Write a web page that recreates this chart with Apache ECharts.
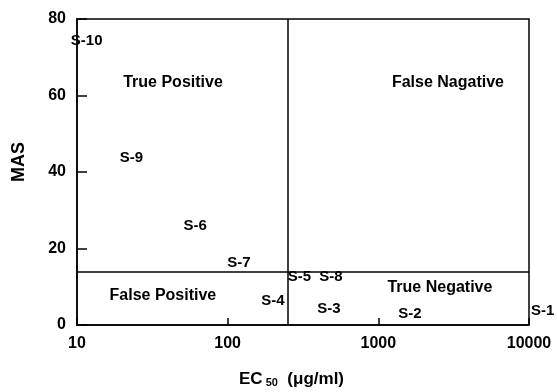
<!DOCTYPE html>
<html>
<head>
<meta charset="utf-8">
<script src="https://cdn.jsdelivr.net/npm/echarts@6/dist/echarts.min.js"></script>
<style>html,body{margin:0;padding:0;background:#fff}#c{width:557px;height:392px}</style>
</head>
<body>
<div id="c"></div>
<script>
// Compounds and their values
var compounds = ['S-1', 'S-2', 'S-3', 'S-4', 'S-5', 'S-6', 'S-7', 'S-8', 'S-9', 'S-10'];
var ec50 = [10000, 1620, 470, 200, 300, 61, 119, 484, 23, 11.6];
var mas = [3.7, 2.9, 4.2, 6.3, 12.5, 25.9, 16.3, 12.5, 43.7, 74.2];

// Quadrant annotations
var regions = ['True Positive', 'False Nagative', 'False Positive', 'True Negative'];
var regionX = [43.4, 2900, 37.2, 2565];
var regionY = [63.3, 63.3, 7.8, 9.7];

// Thresholds
var ecThreshold = 250;
var masThreshold = 14;

// Axis ticks
var xTicks = [10, 100, 1000, 10000];
var yTicks = [0, 20, 40, 60, 80];

var FONT = '"Liberation Sans", Arial, Helvetica, sans-serif';

var compoundData = compounds.map(function (n, i) {
  var d = { name: n, value: [ec50[i], mas[i]] };
  if (i === 0) d.label = { position: 'right', distance: 2, align: 'left' };
  return d;
});
var regionData = regions.map(function (n, i) {
  return { name: n, value: [regionX[i], regionY[i]] };
});

var labelBase = { show: true, position: [0, 0], align: 'center', verticalAlign: 'middle', formatter: '{b}',
  color: '#000', opacity: 1, textBorderWidth: 0, fontFamily: FONT, fontWeight: 'bold' };

var chart = echarts.init(document.getElementById('c'), null, { renderer: 'canvas' });
chart.setOption({
  animation: false,
  backgroundColor: '#fff',
  grid: { left: 77, right: 28, top: 19, bottom: 67, show: true, borderColor: '#000', borderWidth: 1.5, backgroundColor: 'transparent' },
  xAxis: {
    type: 'log', logBase: 10, min: xTicks[0], max: xTicks[xTicks.length - 1],
    axisLine: { lineStyle: { color: '#000', width: 1.5 } },
    axisTick: { inside: true, length: 7, lineStyle: { color: '#000', width: 1.5 } },
    minorTick: { show: false },
    splitLine: { show: false },
    axisLabel: { color: '#000', fontFamily: FONT, fontWeight: 'bold', fontSize: 16, margin: 11,
      formatter: function (v) { return String(Math.round(v)); } }
  },
  yAxis: {
    type: 'value', min: yTicks[0], max: yTicks[yTicks.length - 1], interval: 20,
    axisLine: { lineStyle: { color: '#000', width: 1.5 } },
    axisTick: { inside: true, length: 10, lineStyle: { color: '#000', width: 1.5 } },
    splitLine: { show: false },
    axisLabel: { color: '#000', fontFamily: FONT, fontWeight: 'bold', fontSize: 16, margin: 11 }
  },
  graphic: [
    { type: 'text', left: 10, top: 142, rotation: Math.PI / 2,
      style: { text: 'MAS', font: 'bold 18px ' + FONT, fill: '#000' } },
    { type: 'text', left: 239, top: 371,
      style: { text: '{a|EC}{b| 50}{a|  (μg/ml)}', fill: '#000',
        rich: { a: { fontFamily: FONT, fontWeight: 'bold', fontSize: 17, verticalAlign: 'bottom' },
                b: { fontFamily: FONT, fontWeight: 'bold', fontSize: 11, verticalAlign: 'bottom' } } } }
  ],
  series: [
    {
      type: 'scatter', clip: false, symbolSize: 0.1, itemStyle: { color: '#000', opacity: 1 },
      data: compoundData,
      label: Object.assign({}, labelBase, { fontSize: 15 }),
      markLine: {
        silent: true, symbol: 'none', label: { show: false },
        lineStyle: { color: '#000', width: 1.5, type: 'solid' },
        data: [{ xAxis: ecThreshold }, { yAxis: masThreshold }]
      },
      z: 3
    },
    {
      type: 'scatter', clip: false, symbolSize: 0.1, itemStyle: { color: '#000', opacity: 1 },
      data: regionData,
      label: Object.assign({}, labelBase, { fontSize: 16 })
    }
  ]
});
</script>
</body>
</html>
